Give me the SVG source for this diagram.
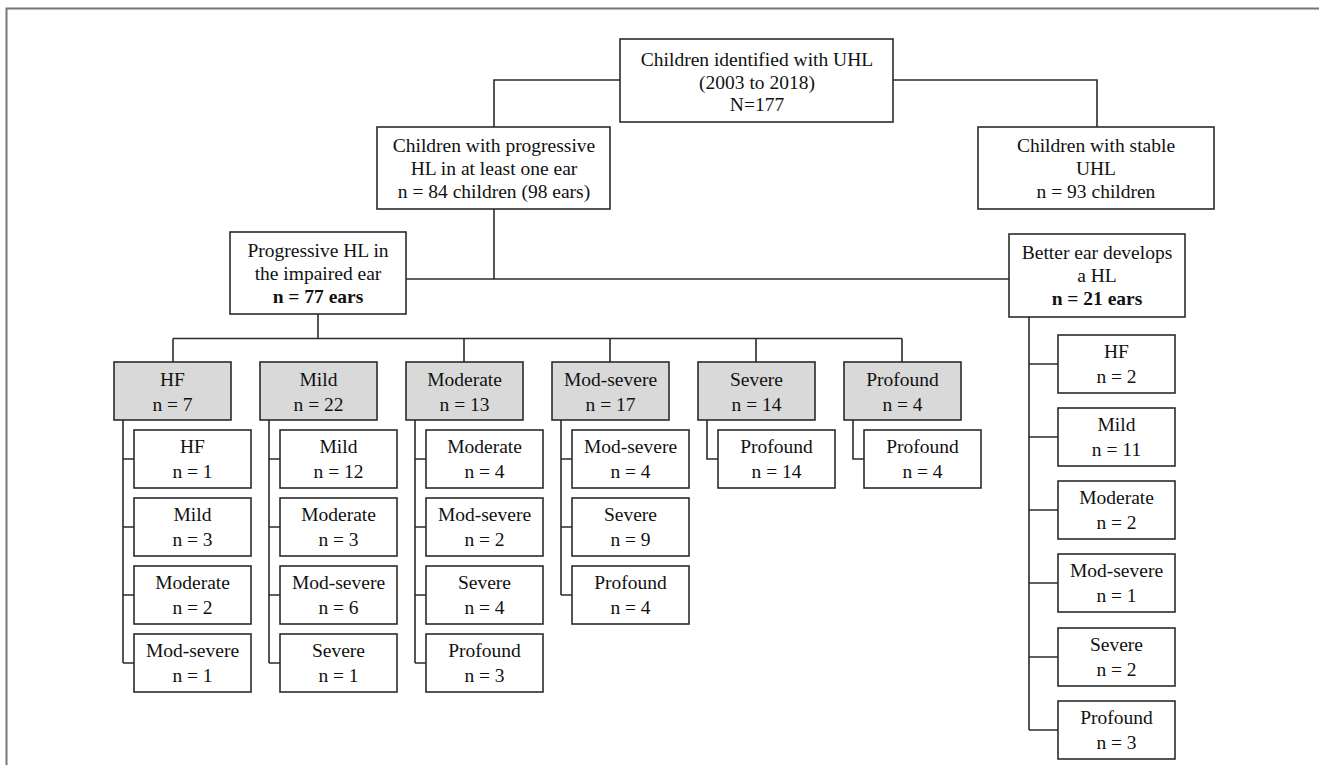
<svg xmlns="http://www.w3.org/2000/svg" width="1319" height="765" viewBox="0 0 1319 765">
<style>
.box{fill:#fff;stroke:#2b2b2b;stroke-width:1.6}
.gray{fill:#d9d9d9;stroke:#2b2b2b;stroke-width:1.6}
.con{fill:none;stroke:#2b2b2b;stroke-width:1.6}
text{font-family:"Liberation Serif","Times New Roman",serif;font-size:19.5px;fill:#111;text-anchor:middle}
.b{font-weight:bold}
</style>
<rect x="0" y="0" width="1319" height="765" fill="#fff"/>
<path d="M6.5 765 V8.5 H1319" fill="none" stroke="#777" stroke-width="2"/>
<g id="connectors" class="con">
<path d="M620 80 H494 V127"/>
<path d="M893 80 H1097 V127"/>
<path d="M494 209 V279"/>
<path d="M406 279 H1009"/>
<path d="M318 314 V338.5"/>
<path d="M173 338.5 H902"/>
<path d="M173 338.5 V362 M464 338.5 V362 M610 338.5 V362 M756 338.5 V362 M902 338.5 V362"/>
<path d="M123 420 V663 M123 459 H134 M123 527 H134 M123 595 H134 M123 663 H134"/>
<path d="M269 420 V663 M269 459 H280 M269 527 H280 M269 595 H280 M269 663 H280"/>
<path d="M415 420 V663 M415 459 H426 M415 527 H426 M415 595 H426 M415 663 H426"/>
<path d="M561 420 V595 M561 459 H572 M561 527 H572 M561 595 H572"/>
<path d="M707 420 V459 H718"/>
<path d="M853 420 V459 H864"/>
<path d="M1029 317 V730 M1029 364 H1058 M1029 437 H1058 M1029 510 H1058 M1029 583 H1058 M1029 657 H1058 M1029 730 H1058"/>
</g>
<g id="n_top"><rect class="box" x="620" y="39" width="273" height="83"/>
<text x="757" y="66">Children identified with UHL</text><text x="757" y="89">(2003 to 2018)</text><text x="757" y="111">N=177</text></g>
<g id="n_prog"><rect class="box" x="377" y="127" width="233" height="82"/>
<text x="494" y="152">Children with progressive</text><text x="494" y="175">HL in at least one ear</text><text x="494" y="198">n = 84 children (98 ears)</text></g>
<g id="n_stable"><rect class="box" x="978" y="127" width="236" height="82"/>
<text x="1096" y="152">Children with stable</text><text x="1096" y="175">UHL</text><text x="1096" y="198">n = 93 children</text></g>
<g id="n_impaired"><rect class="box" x="230" y="232" width="176" height="82"/>
<text x="318" y="257">Progressive HL in</text><text x="318" y="280">the impaired ear</text><text x="318" y="303"><tspan class="b">n = 77 ears</tspan></text></g>
<g id="n_better"><rect class="box" x="1009" y="234" width="176" height="83"/>
<text x="1097" y="259">Better ear develops</text><text x="1097" y="282">a HL</text><text x="1097" y="305"><tspan class="b">n = 21 ears</tspan></text></g>

<g id="g_hf"><rect class="gray" x="114" y="362" width="117" height="58"/><text x="172.5" y="386">HF</text><text x="172.5" y="411">n = 7</text></g>
<g id="g_mild"><rect class="gray" x="260" y="362" width="117" height="58"/><text x="318.5" y="386">Mild</text><text x="318.5" y="411">n = 22</text></g>
<g id="g_mod"><rect class="gray" x="406" y="362" width="117" height="58"/><text x="464.5" y="386">Moderate</text><text x="464.5" y="411">n = 13</text></g>
<g id="g_modsev"><rect class="gray" x="552" y="362" width="117" height="58"/><text x="610.5" y="386">Mod-severe</text><text x="610.5" y="411">n = 17</text></g>
<g id="g_sev"><rect class="gray" x="698" y="362" width="117" height="58"/><text x="756.5" y="386">Severe</text><text x="756.5" y="411">n = 14</text></g>
<g id="g_prof"><rect class="gray" x="844" y="362" width="117" height="58"/><text x="902.5" y="386">Profound</text><text x="902.5" y="411">n = 4</text></g>

<g id="c_hf_1"><rect class="box" x="134" y="430" width="117" height="58"/><text x="192.5" y="453">HF</text><text x="192.5" y="478">n = 1</text></g>
<g id="c_hf_2"><rect class="box" x="134" y="498" width="117" height="58"/><text x="192.5" y="521">Mild</text><text x="192.5" y="546">n = 3</text></g>
<g id="c_hf_3"><rect class="box" x="134" y="566" width="117" height="58"/><text x="192.5" y="589">Moderate</text><text x="192.5" y="614">n = 2</text></g>
<g id="c_hf_4"><rect class="box" x="134" y="634" width="117" height="58"/><text x="192.5" y="657">Mod-severe</text><text x="192.5" y="682">n = 1</text></g>

<g id="c_mild_1"><rect class="box" x="280" y="430" width="117" height="58"/><text x="338.5" y="453">Mild</text><text x="338.5" y="478">n = 12</text></g>
<g id="c_mild_2"><rect class="box" x="280" y="498" width="117" height="58"/><text x="338.5" y="521">Moderate</text><text x="338.5" y="546">n = 3</text></g>
<g id="c_mild_3"><rect class="box" x="280" y="566" width="117" height="58"/><text x="338.5" y="589">Mod-severe</text><text x="338.5" y="614">n = 6</text></g>
<g id="c_mild_4"><rect class="box" x="280" y="634" width="117" height="58"/><text x="338.5" y="657">Severe</text><text x="338.5" y="682">n = 1</text></g>

<g id="c_mod_1"><rect class="box" x="426" y="430" width="117" height="58"/><text x="484.5" y="453">Moderate</text><text x="484.5" y="478">n = 4</text></g>
<g id="c_mod_2"><rect class="box" x="426" y="498" width="117" height="58"/><text x="484.5" y="521">Mod-severe</text><text x="484.5" y="546">n = 2</text></g>
<g id="c_mod_3"><rect class="box" x="426" y="566" width="117" height="58"/><text x="484.5" y="589">Severe</text><text x="484.5" y="614">n = 4</text></g>
<g id="c_mod_4"><rect class="box" x="426" y="634" width="117" height="58"/><text x="484.5" y="657">Profound</text><text x="484.5" y="682">n = 3</text></g>

<g id="c_modsev_1"><rect class="box" x="572" y="430" width="117" height="58"/><text x="630.5" y="453">Mod-severe</text><text x="630.5" y="478">n = 4</text></g>
<g id="c_modsev_2"><rect class="box" x="572" y="498" width="117" height="58"/><text x="630.5" y="521">Severe</text><text x="630.5" y="546">n = 9</text></g>
<g id="c_modsev_3"><rect class="box" x="572" y="566" width="117" height="58"/><text x="630.5" y="589">Profound</text><text x="630.5" y="614">n = 4</text></g>

<g id="c_sev_1"><rect class="box" x="718" y="430" width="117" height="58"/><text x="776.5" y="453">Profound</text><text x="776.5" y="478">n = 14</text></g>
<g id="c_prof_1"><rect class="box" x="864" y="430" width="117" height="58"/><text x="922.5" y="453">Profound</text><text x="922.5" y="478">n = 4</text></g>

<g id="r_hf"><rect class="box" x="1058" y="335" width="117" height="58"/><text x="1116.5" y="358">HF</text><text x="1116.5" y="383">n = 2</text></g>
<g id="r_mild"><rect class="box" x="1058" y="408" width="117" height="58"/><text x="1116.5" y="431">Mild</text><text x="1116.5" y="456">n = 11</text></g>
<g id="r_mod"><rect class="box" x="1058" y="481" width="117" height="58"/><text x="1116.5" y="504">Moderate</text><text x="1116.5" y="529">n = 2</text></g>
<g id="r_modsev"><rect class="box" x="1058" y="554" width="117" height="58"/><text x="1116.5" y="577">Mod-severe</text><text x="1116.5" y="602">n = 1</text></g>
<g id="r_sev"><rect class="box" x="1058" y="628" width="117" height="58"/><text x="1116.5" y="651">Severe</text><text x="1116.5" y="676">n = 2</text></g>
<g id="r_prof"><rect class="box" x="1058" y="701" width="117" height="58"/><text x="1116.5" y="724">Profound</text><text x="1116.5" y="749">n = 3</text></g>
</svg>
